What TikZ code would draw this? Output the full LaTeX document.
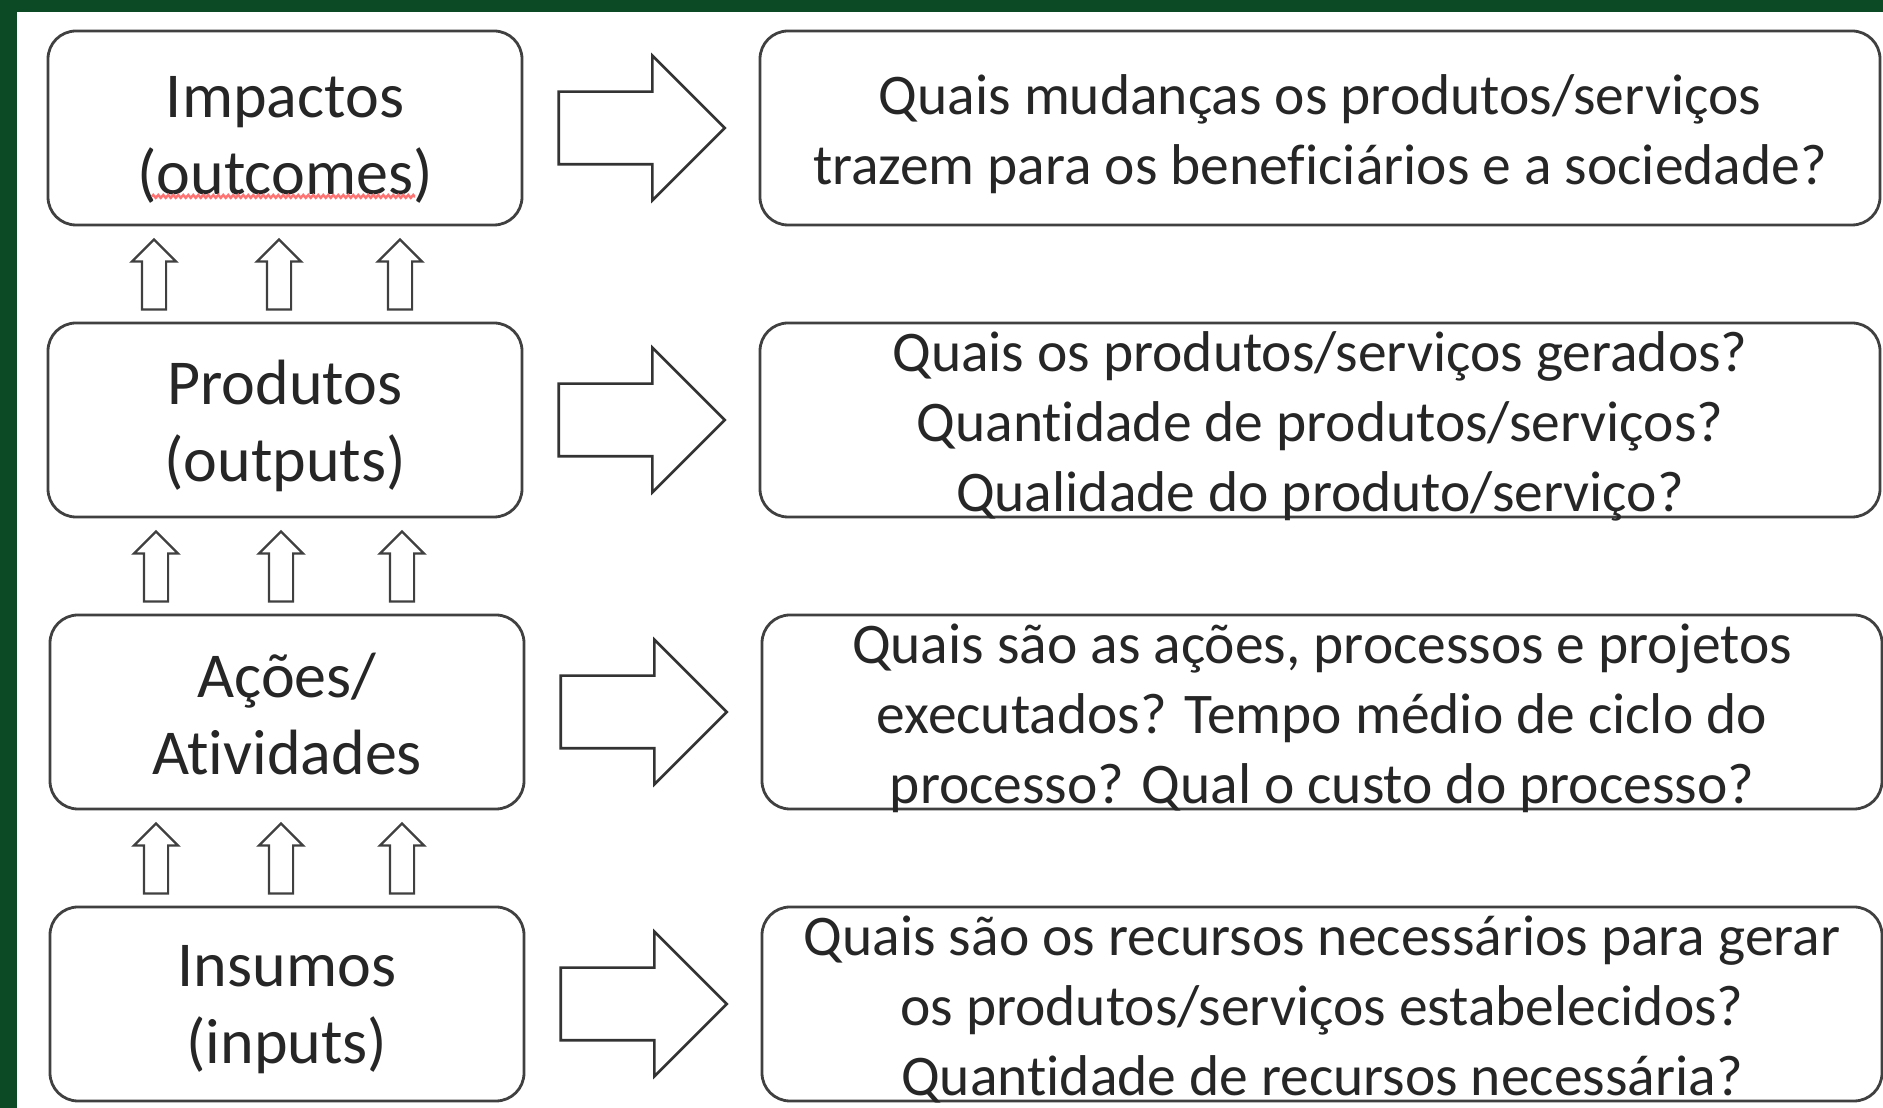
\documentclass[tikz,border=0pt]{standalone}
\usepackage{fontspec}
\setmainfont{Carlito}[Ligatures=NoCommon]
\usepackage{xcolor}
\usepackage{tikz}
\usetikzlibrary{
    calc,
    shapes.arrows,
    decorations.pathmorphing
}
\definecolor{framegreen}{HTML}{0B4A24}
\tikzset{
    stagebox/.style={draw=black!75, line width=2.8pt, rounded corners=28pt,
        minimum width=474pt, minimum height=194pt, inner sep=0pt},
    stagetext/.style={inner sep=0pt, align=center, text=black!85,
        font=\fontsize{64}{77}\selectfont},
    questionbox/.style={draw=black!75, line width=2.8pt, rounded corners=28pt,
        minimum width=1120pt, minimum height=194pt, inner sep=0pt},
    questiontext/.style={inner sep=0pt, yshift=-6pt, align=center, text=black!85,
        font=\fontsize{57.5}{70}\selectfont},
    bigarrow/.style={single arrow, draw=black!80, line width=2.6pt, inner sep=35pt,
        minimum height=166pt, single arrow head extend=36pt, anchor=tail},
    smallarrow/.style={single arrow, draw=black!75, line width=2.2pt, inner sep=11pt,
        shape border rotate=90, minimum height=70pt,
        single arrow head extend=10pt, anchor=tail}
}

\begin{document}
\begin{tikzpicture}[x=1pt, y=1pt]
    \useasboundingbox (0,0) rectangle (1883,1108);
    \fill[framegreen] (0,0) rectangle (1883,1108);
    \fill[white] (17,0) rectangle (1883,1096);

    % left column
    \node[stagebox] (imp) at (285,980) {};
    \node[stagetext, yshift=-12pt] (timpc) at (imp) {Impactos\\(outcomes)};
    \node[stagebox] (prod) at (285,688) {};
    \node[stagetext, yshift=-6pt] (tprodc) at (prod) {Produtos\\(outputs)};
    \node[stagebox] (acoes) at (287,396) {};
    \node[stagetext, yshift=-2pt] (tacoesc) at (acoes) {Ações/\\Atividades};
    \node[stagebox] (ins) at (287,104) {};
    \node[stagetext, yshift=-6pt] (tinsc) at (ins) {Insumos\\(inputs)};

    % spell check mark
    \coordinate (sqa) at ($(imp.south)+(-133,30)$);
    \coordinate (sqb) at ($(imp.south)+(130,30)$);
    \draw[red!55, line width=2.6pt,
        decorate, decoration={zigzag, amplitude=1.3pt, segment length=5pt}] (sqa) -- (sqb);

    % right column
    \node[questionbox] (qimp) at (1320,980) {};
    \node[questiontext] (timp) at (qimp) {Quais mudanças os produtos/serviços\\trazem para os beneficiários e a sociedade?};
    \node[questionbox] (qprod) at (1320,688) {};
    \node[questiontext] (tprod) at (qprod) {Quais os produtos/serviços gerados?\\Quantidade de produtos/serviços?\\Qualidade do produto/serviço?};
    \node[questionbox] (qacoes) at (1322,396) {};
    \node[questiontext] (tacoes) at (qacoes) {Quais são as ações, processos e projetos\\executados? Tempo médio de ciclo do\\processo? Qual o custo do processo?};
    \node[questionbox] (qins) at (1322,104) {};
    \node[questiontext] (tins) at (qins) {Quais são os recursos necessários para gerar\\os produtos/serviços estabelecidos?\\Quantidade de recursos necessária?};

    % arrows to the questions
    \node[bigarrow] (aimp) at ($(imp.east)+(34,0)$) {};
    \node[bigarrow] (aprod) at ($(prod.east)+(34,0)$) {};
    \node[bigarrow] (aacoes) at ($(acoes.east)+(34,0)$) {};
    \node[bigarrow] (ains) at ($(ins.east)+(34,0)$) {};

    % arrows between stages
    \foreach \lo in {prod, acoes, ins}
        \foreach \dx [count=\k] in {-131,-6,115}
            \node[smallarrow] (up\lo\k) at ($(\lo.north)+(\dx,11)$) {};
\end{tikzpicture}
\end{document}
